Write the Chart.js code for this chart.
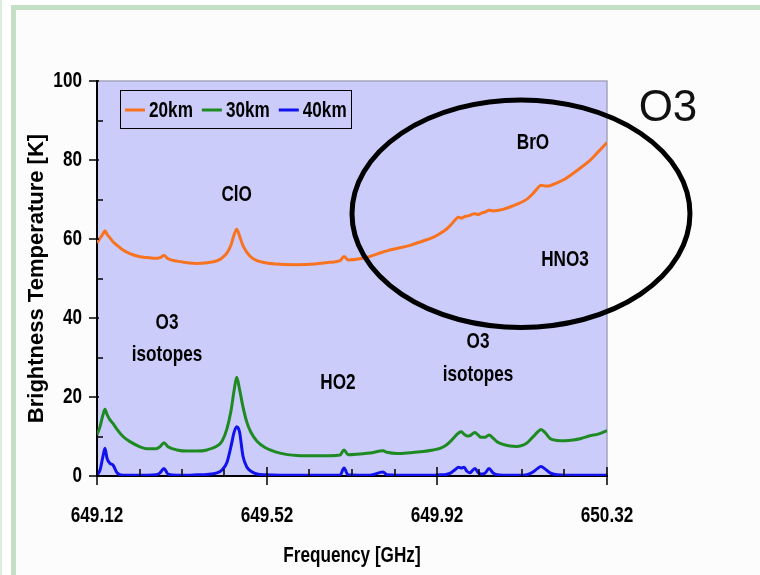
<!DOCTYPE html>
<html>
<head>
<meta charset="utf-8">
<title>Brightness Temperature</title>
<script src="https://cdn.jsdelivr.net/npm/chart.js@4.4.1/dist/chart.umd.min.js"></script>
<style>
  html, body { margin: 0; padding: 0; background: #ffffff; }
  canvas { display: block; }
</style>
</head>
<body>
<canvas id="spectrum" width="760" height="575"></canvas>
<script>
// Frequency grid [GHz] (denser around the spectral lines)
const frequencies = [
  649.1200, 649.1271, 649.1341, 649.1388, 649.1435, 649.1506, 649.1576, 649.1671, 649.1812, 649.1976,
  649.2212, 649.2376, 649.2588, 649.2682, 649.2776, 649.2871, 649.3082, 649.3318, 649.3553, 649.3788,
  649.4024, 649.4141, 649.4259, 649.4353, 649.4424, 649.4487, 649.4553, 649.4635, 649.4729, 649.4824,
  649.4965, 649.5153, 649.5506, 649.5906, 649.6329, 649.6682, 649.6918, 649.7012, 649.7106, 649.7388,
  649.7624, 649.7929, 649.8024, 649.8259, 649.8565, 649.8871, 649.9106, 649.9271, 649.9412, 649.9529,
  649.9624, 649.9706, 649.9776, 649.9835, 649.9906, 649.9976, 650.0035, 650.0094, 650.0165, 650.0235,
  650.0329, 650.0424, 650.0518, 650.0612, 650.0753, 650.0918, 650.1082, 650.1224, 650.1341, 650.1459,
  650.1553, 650.1647, 650.1741, 650.1859, 650.2024, 650.2212, 650.2400, 650.2588, 650.2800, 650.2988,
  650.3200
];

// Brightness temperature [K] for each tangent height
const temp20km = [
  59.0, 60.2, 61.3, 62.1, 61.2, 60.3, 59.3, 58.4, 57.2, 56.3,
  55.5, 55.3, 55.1, 55.3, 55.8, 55.0, 54.4, 54.0, 53.8, 54.0,
  54.5, 55.2, 56.5, 58.5, 61.0, 62.5, 60.8, 58.3, 56.6, 55.4,
  54.5, 54.0, 53.6, 53.5, 53.7, 54.1, 54.5, 55.6, 54.7, 55.0,
  55.6, 56.7, 57.0, 57.6, 58.4, 59.5, 60.4, 61.4, 62.4, 63.6,
  64.8, 65.5, 65.3, 65.6, 65.8, 66.0, 66.3, 66.4, 66.2, 66.5,
  66.8, 67.3, 67.1, 67.2, 67.5, 68.1, 68.8, 69.5, 70.3, 71.5,
  72.7, 73.6, 73.4, 73.5, 74.2, 75.2, 76.6, 78.1, 79.9, 82.0,
  84.4
];
const temp30km = [
  10.4, 12.5, 15.5, 16.9, 15.6, 14.2, 13.3, 11.8, 10.0, 8.7,
  7.4, 6.9, 6.9, 7.4, 8.4, 7.4, 6.6, 6.3, 6.3, 6.6,
  7.6, 8.8, 12.0, 16.5, 21.5, 25.0, 22.0, 17.5, 13.5, 11.0,
  8.8, 7.2, 5.8, 5.2, 5.1, 5.1, 5.3, 6.6, 5.4, 5.6,
  5.8, 6.4, 6.0, 5.7, 5.9, 6.2, 6.6, 7.0, 7.8, 8.9,
  10.0, 10.9, 11.2, 10.6, 10.1, 10.2, 10.7, 11.0, 10.4, 9.8,
  9.8, 10.4, 9.6, 8.7, 8.0, 7.6, 7.5, 7.8, 8.6, 9.9,
  11.0, 11.8, 11.0, 9.5, 9.0, 8.9, 9.1, 9.5, 10.2, 10.6,
  11.5
];
const temp40km = [
  0.2, 1.5, 5.0, 7.0, 4.5, 3.2, 2.8, 0.8, 0.2, 0.2,
  0.2, 0.2, 0.3, 0.8, 1.9, 0.5, 0.2, 0.2, 0.3, 0.4,
  0.8, 1.5, 3.5, 7.5, 11.0, 12.5, 11.2, 5.0, 2.2, 1.2,
  0.5, 0.3, 0.2, 0.2, 0.2, 0.2, 0.2, 2.0, 0.3, 0.2,
  0.2, 1.0, 0.3, 0.2, 0.2, 0.2, 0.2, 0.3, 0.4, 0.8,
  1.6, 2.2, 2.0, 2.2, 1.2, 0.8, 1.4, 1.9, 0.9, 0.5,
  0.7, 1.9, 0.8, 0.3, 0.2, 0.2, 0.2, 0.2, 0.4, 1.0,
  1.8, 2.4, 1.8, 0.8, 0.3, 0.2, 0.2, 0.2, 0.2, 0.2,
  0.2
];

const seriesLabels = ['20km', '30km', '40km'];

// Axis ticks
const xTickValues = [649.12, 649.52, 649.92, 650.32];
const xMinorTickValues = [649.22, 649.32, 649.42, 649.62, 649.72, 649.82, 650.02, 650.12, 650.22];
const yTickValues = [0, 20, 40, 60, 80, 100];
const yMinorTickValues = [10, 30, 50, 70, 90];

// Molecule labels placed in data coordinates (frequency, temperature)
const moleculeLabels = [
  { text: 'ClO',      freq: 649.4487, temp: 71.1 },
  { text: 'BrO',      freq: 650.1459, temp: 84.3 },
  { text: 'HNO3',     freq: 650.2212, temp: 54.7 },
  { text: 'O3',       freq: 649.2847, temp: 38.7 },
  { text: 'isotopes', freq: 649.2847, temp: 30.6 },
  { text: 'HO2',      freq: 649.6870, temp: 23.5 },
  { text: 'O3',       freq: 650.0165, temp: 33.9 },
  { text: 'isotopes', freq: 650.0165, temp: 25.6 }
];

const SANS = "'Liberation Sans', Arial, sans-serif";
const LABEL_FONT = `bold 22px ${SANS}`;
const CONDENSE = 0.78;           // horizontal squeeze for the condensed label face
const PLOT_BG = '#ccccfb';

const toPoints = values => frequencies.map((f, i) => ({ x: f, y: values[i] }));

// Condensed bold text: the regular face squeezed horizontally
function narrowText(ctx, text, x, y, align) {
  ctx.save();
  ctx.translate(x, y);
  ctx.scale(CONDENSE, 1);
  ctx.font = LABEL_FONT;
  ctx.textAlign = align;
  ctx.textBaseline = 'middle';
  ctx.fillStyle = '#000';
  ctx.fillText(text, 0, 0);
  ctx.restore();
}
function narrowWidth(ctx, text) {
  ctx.save();
  ctx.font = LABEL_FONT;
  const w = ctx.measureText(text).width * CONDENSE;
  ctx.restore();
  return w;
}

// Page frame, plot background and border
const backdropPlugin = {
  id: 'backdrop',
  beforeDraw(chart) {
    const { ctx, chartArea: a } = chart;
    ctx.save();
    ctx.fillStyle = '#ffffff';
    ctx.fillRect(0, 0, chart.width, chart.height);
    ctx.fillStyle = '#dcefdc';
    ctx.fillRect(0, 0, 2, chart.height);
    ctx.fillStyle = '#c3e0c5';
    ctx.fillRect(11, 5, chart.width - 11, 5);
    ctx.fillRect(11, 5, 5, chart.height - 5);
    ctx.fillStyle = '#fcfcfc';
    ctx.fillRect(16, 10, chart.width - 16, chart.height - 10);
    ctx.fillStyle = PLOT_BG;
    ctx.fillRect(a.left, a.top, a.right - a.left, a.bottom - a.top);
    ctx.strokeStyle = '#a4a4bc';
    ctx.lineWidth = 1.5;
    ctx.beginPath();
    ctx.moveTo(a.left, a.top);
    ctx.lineTo(a.right, a.top);
    ctx.lineTo(a.right, a.bottom);
    ctx.stroke();
    ctx.restore();
  }
};

// Tick marks and labels: major ticks cross the axes, minor ticks point into the plot
const axisPlugin = {
  id: 'axisMarks',
  afterDatasetsDraw(chart) {
    const { ctx, chartArea: a, scales: { x, y } } = chart;
    ctx.save();
    ctx.strokeStyle = '#000';
    ctx.lineWidth = 1.5;
    ctx.beginPath();
    xTickValues.forEach(v => {
      const px = Math.round(x.getPixelForValue(v));
      ctx.moveTo(px, a.bottom - 9); ctx.lineTo(px, a.bottom + 9);
    });
    xMinorTickValues.forEach(v => {
      const px = Math.round(x.getPixelForValue(v));
      ctx.moveTo(px, a.bottom - 7); ctx.lineTo(px, a.bottom);
    });
    yTickValues.forEach(v => {
      const py = Math.round(y.getPixelForValue(v));
      ctx.moveTo(a.left - 8, py); ctx.lineTo(a.left + 2, py);
    });
    yMinorTickValues.forEach(v => {
      const py = Math.round(y.getPixelForValue(v));
      ctx.moveTo(a.left, py); ctx.lineTo(a.left + 6, py);
    });
    ctx.stroke();
    ctx.restore();

    xTickValues.forEach(v => narrowText(ctx, v.toFixed(2), x.getPixelForValue(v), a.bottom + 40, 'center'));
    yTickValues.forEach(v => narrowText(ctx, String(v), a.left - 15, y.getPixelForValue(v), 'right'));
    narrowText(ctx, 'Frequency [GHz]', (a.left + a.right) / 2, a.bottom + 80, 'center');
  }
};

// Boxed legend, annotations and the highlighted region
const overlayPlugin = {
  id: 'overlay',
  afterDraw(chart) {
    const { ctx, scales: { x, y } } = chart;
    ctx.save();

    // legend box
    const bx = 120, by = 90, bw = 231, bh = 38;
    ctx.fillStyle = PLOT_BG;
    ctx.fillRect(bx, by, bw, bh);
    ctx.strokeStyle = '#000';
    ctx.lineWidth = 1;
    ctx.strokeRect(bx + 0.5, by + 0.5, bw, bh);
    let lx = bx + 5;
    const ly = by + bh / 2 + 1;
    chart.data.datasets.forEach(ds => {
      ctx.strokeStyle = ds.borderColor;
      ctx.lineWidth = 3;
      ctx.beginPath();
      ctx.moveTo(lx, ly); ctx.lineTo(lx + 20, ly);
      ctx.stroke();
      narrowText(ctx, ds.label, lx + 24, ly + 1, 'left');
      lx += 24 + narrowWidth(ctx, ds.label) + 9;
    });

    // molecule names
    moleculeLabels.forEach(l => {
      narrowText(ctx, l.text, x.getPixelForValue(l.freq), y.getPixelForValue(l.temp), 'center');
    });

    // O3 region ellipse
    const cf = 650.1176, ct = 66.4;
    const cx = x.getPixelForValue(cf), cy = y.getPixelForValue(ct);
    const rx = x.getPixelForValue(cf + 0.3976) - cx;
    const ry = cy - y.getPixelForValue(ct + 28.8);
    ctx.strokeStyle = '#000';
    ctx.lineWidth = 5;
    ctx.beginPath();
    ctx.ellipse(cx, cy, rx, ry, 0, 0, Math.PI * 2);
    ctx.stroke();

    ctx.font = `44px ${SANS}`;
    ctx.fillStyle = '#111';
    ctx.textAlign = 'center';
    ctx.textBaseline = 'middle';
    ctx.fillText('O3', x.getPixelForValue(650.4635), y.getPixelForValue(93.0));
    ctx.restore();
  }
};

const lineStyle = color => ({
  borderColor: color,
  backgroundColor: color,
  borderWidth: 3,
  pointRadius: 0,
  fill: false,
  cubicInterpolationMode: 'monotone'
});

new Chart(document.getElementById('spectrum'), {
  type: 'line',
  data: {
    datasets: [
      { label: seriesLabels[0], data: toPoints(temp20km), ...lineStyle('#f8731f') },
      { label: seriesLabels[1], data: toPoints(temp30km), ...lineStyle('#1e8a22') },
      { label: seriesLabels[2], data: toPoints(temp40km), ...lineStyle('#1212ec') }
    ]
  },
  options: {
    responsive: false,
    animation: false,
    events: [],
    layout: { padding: { top: 81, right: 153, left: 0, bottom: 0 } },
    plugins: { legend: { display: false }, tooltip: { enabled: false } },
    scales: {
      x: {
        type: 'linear',
        min: 649.12,
        max: 650.32,
        afterBuildTicks: s => { s.ticks = xTickValues.map(v => ({ value: v })); },
        afterFit: s => { s.height = 99; },
        grid: { display: false, drawTicks: false },
        border: { display: true, color: '#000', width: 2 },
        ticks: { display: false },
        title: { display: false }
      },
      y: {
        min: 0,
        max: 100,
        afterBuildTicks: s => { s.ticks = yTickValues.map(v => ({ value: v })); },
        afterFit: s => { s.width = 97; },
        grid: { display: false, drawTicks: false },
        border: { display: true, color: '#000', width: 2 },
        ticks: { display: false },
        title: {
          display: true,
          text: 'Brightness Temperature [K]',
          color: '#000',
          font: { family: SANS, size: 22, weight: 'bold' },
          padding: { top: 24, bottom: 0 }
        }
      }
    }
  },
  plugins: [backdropPlugin, axisPlugin, overlayPlugin]
});
</script>
</body>
</html>
